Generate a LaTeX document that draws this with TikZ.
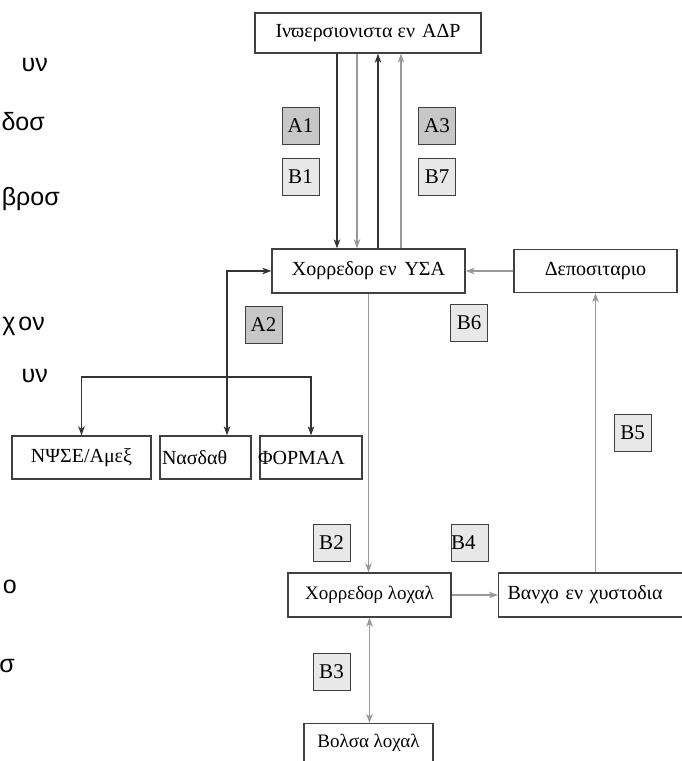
\documentclass[tikz,border=0pt]{standalone}
\usepackage{fontspec}
\setmainfont{Liberation Serif}
\newfontfamily\marginfont{Liberation Sans}
\usetikzlibrary{arrows.meta}

\tikzset{
  box/.style={draw=black!75,line width=1.3pt,fill=white,inner sep=0pt},
  tagA/.style={draw=black!75,line width=1pt,fill=black!22,minimum width=37pt,minimum height=37pt,inner sep=0pt,font=\fontsize{21}{23}\selectfont},
  tagB/.style={tagA,fill=black!9},
  dark/.style={draw=black!80,line width=1.3pt},
  pale/.style={draw=black!40,line width=1.3pt},
  margintext/.style={font=\marginfont\fontsize{25}{27}\selectfont,inner sep=0pt,anchor=base east}
}

\begin{document}
\begin{tikzpicture}[x=1pt,y=-1pt,>={Stealth[length=9pt,width=6.5pt,inset=2.5pt]},font=\fontsize{20}{22}\selectfont]
  \useasboundingbox (0,0) rectangle (681,761);
  % text left over at the left margin
  \node[margintext] (m1) at (48,71) {υν};
  \node[margintext] (m2) at (45,130) {δοσ};
  \node[margintext] (m3) at (60,205) {βροσ};
  \node[margintext] (m4) at (45,330) {χ\hspace{3pt}ον};
  \node[margintext] (m5) at (48,382) {υν};
  \node[margintext] (m7) at (17,593) {ο};
  \node[margintext] (m8) at (15,672) {σ};
  % boxes
  \node[box,minimum width=226pt,minimum height=40pt] (adr) at (368,33) {Ινϖερσιονιστα εν\hspace{7pt}ΑΔΡ};
  \node[box,minimum width=193pt,minimum height=44pt] (usa) at (368.5,271) {Χορρεδορ εν\hspace{8pt}ΥΣΑ};
  \node[box,minimum width=163pt,minimum height=43pt] (dep) at (595.5,271) {Δεποσιταριο};
  \node[box,minimum width=139pt,minimum height=43pt] (nyse) at (81.5,457.5) {ΝΨΣΕ/Αμεξ};
  \node[box,minimum height=43pt,text width=87pt,inner xsep=2pt,align=left] (nasdaq) at (205.5,457.5) {Νασδαθ};
  \node[box,minimum height=43pt,text width=106pt,inner xsep=-2pt,align=left] (formal) at (311,457.5) {ΦΟΡΜΑΛ};
  \node[box,minimum width=163pt,minimum height=44pt,font=\fontsize{19}{21}\selectfont] (local) at (369.5,595) {Χορρεδορ λοχαλ};
  \node[box,minimum height=44pt,text width=175pt,inner xsep=9pt,align=left,anchor=west] (bank) at (498,595) {Βανχο εν χυστοδια};
  \node[box,minimum width=129pt,text height=18pt,text depth=12pt,inner ysep=6pt,anchor=north,font=\fontsize{19}{21}\selectfont] (bolsa) at (368.5,723) {Βολσα λοχαλ};
  % flow tags
  \node[tagA] (a1) at (300.5,126) {A1};
  \node[tagB] (b1) at (300.5,177) {B1};
  \node[tagA] (a3) at (437,126) {A3};
  \node[tagB] (b7) at (437,177) {B7};
  \node[tagA] (a2) at (263.5,325) {A2};
  \node[tagB] (b6) at (469,322.5) {B6};
  \node[tagB] (b5) at (632.5,432.5) {B5};
  \node[tagB] (b2) at (331.5,542.5) {B2};
  \node[tagB,text width=37pt,align=left] (b4) at (469.5,542.5) {B4};
  \node[tagB] (b3) at (331.5,672) {B3};
  % connectors
  \draw[dark,->] ([xshift=-31pt]adr.south) -- ([xshift=-31pt]adr.south |- usa.north);
  \draw[pale,->] ([xshift=-11pt]adr.south) -- ([xshift=-11pt]adr.south |- usa.north);
  \draw[dark,->] ([xshift=10pt]adr.south |- usa.north) -- ([xshift=10pt]adr.south);
  \draw[pale,->] ([xshift=33pt]adr.south |- usa.north) -- ([xshift=33pt]adr.south);
  \draw[dark,<->] ([xshift=21.5pt]nasdaq.north) |- (usa.west);
  \coordinate (split) at (227,377);
  \draw[dark,->] (split) -| (nyse.north);
  \draw[dark,->] (split) -| (formal.north);
  \draw[pale,->] (dep.west) -- (usa.east);
  \draw[pale,->] (usa.south) -- (usa.south |- local.north);
  \draw[pale,->] (local.east) -- (bank.west);
  \draw[pale,<->] (local.south) -- (local.south |- bolsa.north);
  \draw[pale,->] (dep.south |- bank.north) -- (dep.south);
\end{tikzpicture}
\end{document}
